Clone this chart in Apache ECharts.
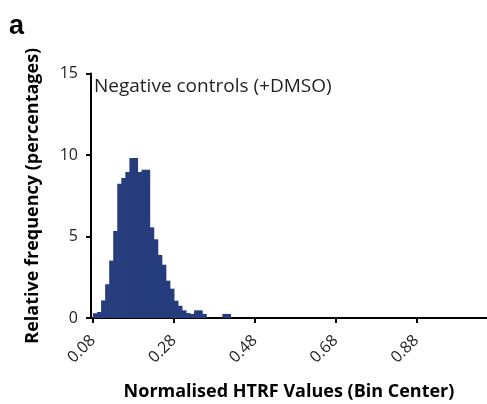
<!DOCTYPE html>
<html>
<head>
<meta charset="utf-8">
<script src="https://cdn.jsdelivr.net/npm/echarts@6/dist/echarts.min.js"></script>
<style>
  html, body { margin: 0; padding: 0; background: #fff; }
  #chart { width: 487px; height: 404px; }
</style>
</head>
<body>
<div id="chart"></div>
<script>
// bin centers (normalised HTRF), bin width 0.01
const binCenters = [0.085, 0.095, 0.105, 0.115, 0.125, 0.135, 0.145, 0.155, 0.165, 0.175,
                    0.185, 0.195, 0.205, 0.215, 0.225, 0.235, 0.245, 0.255, 0.265, 0.275,
                    0.285, 0.295, 0.305, 0.315, 0.325, 0.335, 0.345, 0.355, 0.365, 0.375,
                    0.385, 0.395, 0.405, 0.415]
// relative frequency (%)
const frequency = [0.29, 0.37, 1.08, 2.07, 3.52, 5.34, 8.24, 8.59, 8.96, 9.82,
                   9.82, 8.96, 9.10, 9.10, 5.56, 4.83, 3.87, 3.27, 2.29, 1.80,
                   1.06, 0.75, 0.47, 0.30, 0.25, 0.47, 0.47, 0.25, 0, 0,
                   0, 0, 0.25, 0.25]
const binWidth = 0.01
const xTicks = [0.08, 0.28, 0.48, 0.68, 0.88]
const yTicks = [0, 5, 10, 15]

const textColor = '#231f20'
const barColor = '#263c7c'
const font = '"Open Sans", "Noto Sans", sans-serif'

let myChart = echarts.init(document.getElementById('chart'))
let seriesData = []
for (let i = 0; i < binCenters.length; i++) {
    seriesData.push([binCenters[i], frequency[i]])
}
let option = {
    animation: false,
    grid: {
        left: 91,
        right: 0,
        top: 73.5,
        bottom: 86,
        outerBoundsMode: 'none'
    },
    graphic: [
        {
            type: 'text', left: 9, top: 13,
            style: { text: 'a', fill: '#000', font: 'bold 27px "Liberation Sans", Arial, sans-serif' }
        },
        {
            type: 'text', left: 94, top: 77,
            style: { text: 'Negative controls (+DMSO)', fill: textColor, font: '19px ' + font }
        }
    ],
    xAxis: {
        type: 'value',
        min: 0.075,
        max: 1.055,
        name: 'Normalised HTRF Values (Bin Center)',
        nameLocation: 'middle',
        nameGap: 65,
        nameMoveOverlap: false,
        nameTextStyle: { color: '#000', fontSize: 18, fontWeight: 'bold', fontFamily: font },
        axisLine: { show: true, lineStyle: { color: '#000', width: 2 } },
        axisTick: { show: true, customValues: xTicks, length: 5, lineStyle: { color: '#000', width: 2 } },
        axisLabel: {
            customValues: xTicks,
            rotate: 45,
            margin: 20,
            color: textColor,
            fontSize: 16,
            fontFamily: font,
            formatter: v => v.toFixed(2)
        },
        splitLine: { show: false }
    },
    yAxis: {
        type: 'value',
        min: 0,
        max: 15,
        interval: 5,
        name: 'Relative frequency (percentages)',
        nameLocation: 'middle',
        nameGap: 49,
        nameMoveOverlap: false,
        nameTextStyle: { color: '#000', fontSize: 18, fontWeight: 'bold', fontFamily: font },
        axisLine: { show: true, lineStyle: { color: '#000', width: 2 } },
        axisTick: { show: true, customValues: yTicks, length: 5, lineStyle: { color: '#000', width: 2 } },
        axisLabel: { customValues: yTicks, margin: 13, color: textColor, fontSize: 16, fontFamily: font },
        splitLine: { show: false }
    },
    series: [{
        type: 'custom',
        data: seriesData,
        encode: { x: 0, y: 1 },
        renderItem: function (params, api) {
            let c = api.value(0)
            let v = api.value(1)
            if (!v) return null
            let p0 = api.coord([c - binWidth / 2, v])
            let p1 = api.coord([c + binWidth / 2, 0])
            // slight overlap so neighbouring bins don't show seams
            return {
                type: 'rect',
                shape: { x: p0[0], y: p0[1], width: p1[0] - p0[0] + 0.6, height: p1[1] - p0[1] },
                style: { fill: barColor }
            }
        },
        z: 1
    }]
}
myChart.setOption(option)
window.addEventListener('resize', function () {
    myChart.resize()
})
</script>
</body>
</html>
